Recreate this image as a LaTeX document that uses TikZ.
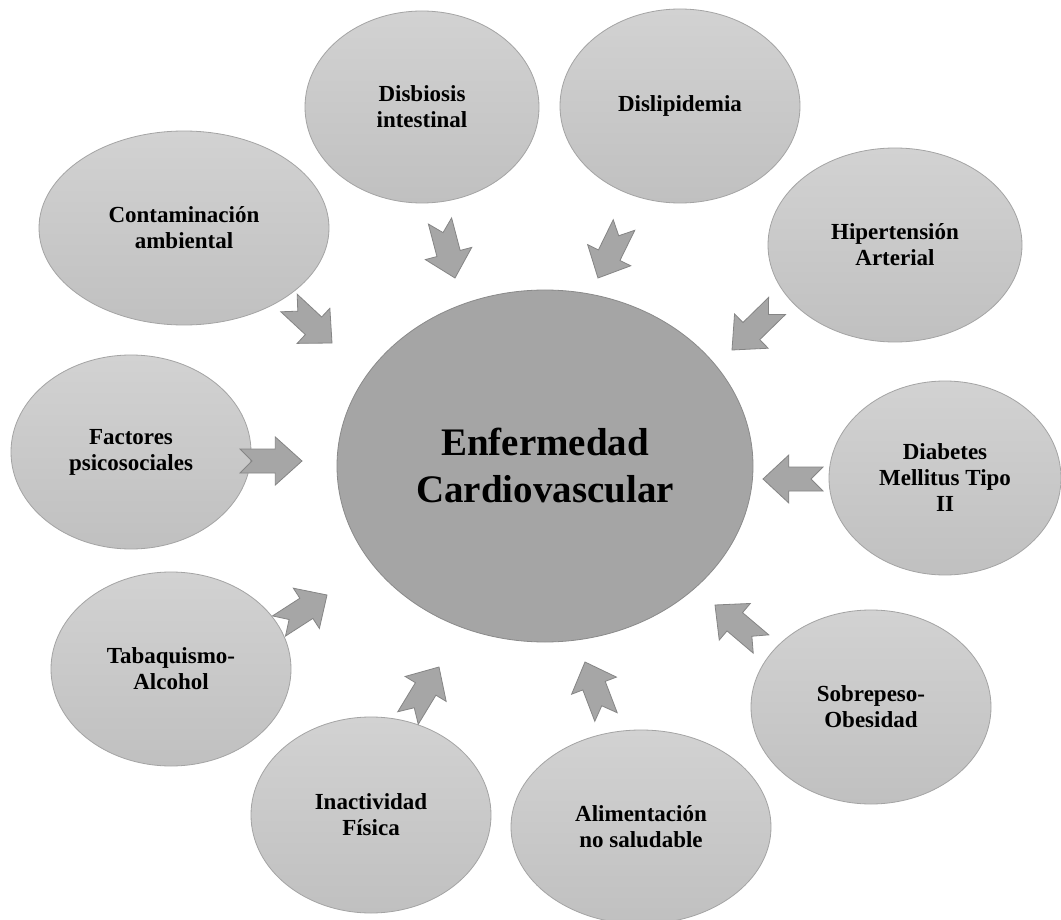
\documentclass[tikz,border=0pt]{standalone}
\usepackage{fontspec}
\setmainfont{Liberation Serif}
\usetikzlibrary{shapes.geometric,calc}
\definecolor{sattop}{HTML}{D2D2D2}
\definecolor{satbot}{HTML}{C0C0C0}
\definecolor{satline}{HTML}{A4A4A4}
\definecolor{corefill}{HTML}{A5A5A5}
\definecolor{coreline}{HTML}{8A8A8A}
\definecolor{arrfill}{HTML}{A6A6A6}
\definecolor{arrline}{HTML}{858585}
\newcommand\notcharrow[2]{%
  \draw[blockarrow] ($(#1)!12pt!90:(#2)$) -- ($(#1)!0.57!(#2)!12pt!90:(#2)$)
    -- ($(#1)!0.57!(#2)!24pt!90:(#2)$) -- (#2)
    -- ($(#1)!0.57!(#2)!24pt!-90:(#2)$) -- ($(#1)!0.57!(#2)!12pt!-90:(#2)$)
    -- ($(#1)!12pt!-90:(#2)$) -- ($(#1)!12pt!(#2)$) -- cycle;}
\begin{document}
\begin{tikzpicture}[x=1pt,y=-1pt,
  sat/.style={ellipse, draw=satline, line width=0.8pt, top color=sattop, bottom color=satbot,
    inner sep=0pt, align=center, font=\fontsize{23}{26}\selectfont\bfseries},
  core/.style={ellipse, draw=coreline, line width=0.8pt, fill=corefill, inner sep=0pt,
    align=center, font=\fontsize{39}{47}\selectfont\bfseries},
  blockarrow/.style={draw=arrline, fill=arrfill, line width=0.8pt, line join=miter}]
\useasboundingbox (0,0) rectangle (1061,920);
\fill[white] (0,0) rectangle (1061,920);

\node[core, minimum width=416pt, minimum height=352pt] (evc) at (545,466) {Enfermedad\\Cardiovascular};

\node[sat, minimum width=290pt, minimum height=194pt] (cont) at (184,228) {Contaminación\\ambiental};
\node[sat, minimum width=234pt, minimum height=192pt] (disb) at (422,107) {Disbiosis\\intestinal};
\node[sat, minimum width=240pt, minimum height=194pt] (disl) at (680,106) {Dislipidemia};
\node[sat, minimum width=254pt, minimum height=194pt] (hip) at (895,245) {Hipertensión\\Arterial};
\node[sat, minimum width=240pt, minimum height=194pt] (fac) at (131,452) {Factores\\psicosociales};
\node[sat, minimum width=232pt, minimum height=194pt] (diab) at (945,478) {Diabetes\\Mellitus Tipo\\II};
\node[sat, minimum width=240pt, minimum height=194pt] (tab) at (171,669) {Tabaquismo-\\Alcohol};
\node[sat, minimum width=240pt, minimum height=196pt] (inac) at (371,815) {Inactividad\\Física};
\node[sat, minimum width=240pt, minimum height=194pt] (sob) at (871,707) {Sobrepeso-\\Obesidad};
\node[sat, minimum width=260pt, minimum height=194pt] (alim) at (641,827) {Alimentación\\no saludable};

\coordinate (contT) at (289,303); \coordinate (contH) at (332,343);
\coordinate (disbT) at (440,221); \coordinate (disbH) at (455,278);
\coordinate (dislT) at (624,225); \coordinate (dislH) at (598,278);
\coordinate (hipT) at (777,306);  \coordinate (hipH) at (732,350);
\coordinate (diabT) at (823,479); \coordinate (diabH) at (763,479);
\coordinate (sobT) at (761,644);  \coordinate (sobH) at (715,605);
\coordinate (alimT) at (606,717); \coordinate (alimH) at (585,662);
\coordinate (inacT) at (408,718); \coordinate (inacH) at (439,667);
\coordinate (tabT) at (279,626);  \coordinate (tabH) at (327,595);
\coordinate (facT) at (240,461);  \coordinate (facH) at (302,461);

\notcharrow{contT}{contH}
\notcharrow{disbT}{disbH}
\notcharrow{dislT}{dislH}
\notcharrow{hipT}{hipH}
\notcharrow{diabT}{diabH}
\notcharrow{sobT}{sobH}
\notcharrow{alimT}{alimH}
\notcharrow{inacT}{inacH}
\notcharrow{tabT}{tabH}
\notcharrow{facT}{facH}
\end{tikzpicture}
\end{document}
